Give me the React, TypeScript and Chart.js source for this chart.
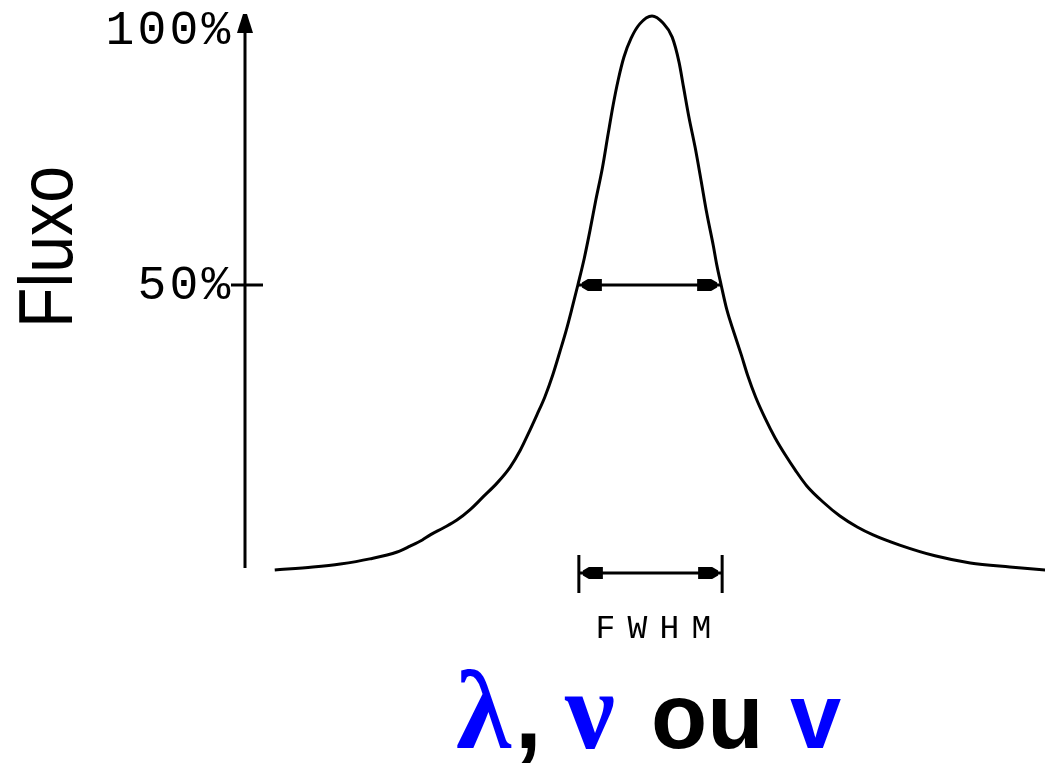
import React, { useEffect, useRef } from "react";
import { Chart, registerables } from "chart.js";

Chart.register(...registerables);

// Spectral line profile: offset from line centre (in units of half the FWHM) and flux (%)
const offsets = [
  -5.24, -4.71, -4.33, -3.92, -3.54, -3.36, -3.19, -3.08, -2.9, -2.71, -2.53, -2.35, -2.15,
  -1.97, -1.83, -1.72, -1.6, -1.49, -1.38, -1.28, -1.19, -1.11, -1.03, -0.94, -0.86, -0.78,
  -0.69, -0.61, -0.54, -0.47, -0.39, -0.29, -0.17, 0.0, 0.15, 0.28, 0.375, 0.44, 0.51, 0.6,
  0.68, 0.76, 0.85, 0.9, 0.96, 1.04, 1.14, 1.24, 1.33, 1.44, 1.57, 1.71, 1.85, 1.99, 2.15,
  2.375, 2.61, 2.85, 3.07, 3.44, 3.93, 4.42, 4.97, 5.46,
];
const flux = [
  -5.9, -5.3, -4.7, -3.7, -2.35, -1.2, 0.0, 1.0, 2.35, 3.9, 5.9, 8.4, 11.2,
  14.3, 17.6, 20.8, 24.5, 28.0, 32.3, 36.9, 41.2, 45.5, 50.0, 55.3, 60.8, 66.7,
  72.9, 79.6, 85.3, 90.2, 94.7, 98.4, 101.2, 102.75, 101.4, 98.6, 93.7, 88.6, 83.1, 76.9,
  70.6, 64.1, 57.8, 53.9, 50.0, 45.1, 40.6, 36.3, 32.2, 28.0, 23.9, 20.0, 16.7, 13.7, 10.6,
  7.45, 4.7, 2.55, 1.0, -1.0, -3.1, -4.5, -5.3, -5.9,
];

// Axis ranges
const xRange = [-5.667, 5.458];
const yRange = [-5.49, 102.35];

// Y tick values and their labels
const tickValues = [50, 100];
const tickLabels = ["50%", "100%"];

// Full width at half maximum: edges of the profile at 50%
const halfMax = 50;
const fwhmEdges = [-1.03, 0.96];
const fwhmMarkerLevel = -6.47;
const fwhmLabel = "FWHM";

// Axis titles
const yTitle = "Fluxo";
const xTitleParts = [
  { text: "λ", color: "#0000ff", font: "bold 112px 'Liberation Serif'", x: 456 },
  { text: ",", color: "#000000", font: "bold 96px 'Liberation Sans'", x: 515 },
  { text: "ν", color: "#0000ff", font: "bold 112px 'Liberation Serif'", x: 565 },
  { text: "ou", color: "#000000", font: "bold 92px 'Liberation Sans'", x: 651 },
  { text: "v", color: "#0000ff", font: "bold 92px 'Liberation Sans'", x: 790 },
];

const MONO = "'Liberation Mono', monospace";

function drawSpaced(ctx: CanvasRenderingContext2D, text: string, firstCenter: number, cy: number, pitch: number) {
  ctx.textAlign = "center";
  ctx.textBaseline = "middle";
  for (let i = 0; i < text.length; i++) {
    ctx.fillText(text[i], firstCenter + i * pitch, cy);
  }
}

function arrowHead(ctx: CanvasRenderingContext2D, xe: number, yc: number, dir: number) {
  // dir = -1 points left (head sits right of xe), +1 points right
  const s = -dir;
  ctx.beginPath();
  ctx.moveTo(xe + s * 4, yc - 2.5);
  ctx.lineTo(xe + s * 10, yc - 6);
  ctx.lineTo(xe + s * 24, yc - 6);
  ctx.lineTo(xe + s * 24, yc + 6);
  ctx.lineTo(xe + s * 10, yc + 6);
  ctx.lineTo(xe + s * 4, yc + 2.5);
  ctx.closePath();
  ctx.fill();
}

function dimension(ctx: CanvasRenderingContext2D, xl: number, xr: number, yc: number, bars: boolean) {
  ctx.lineWidth = 3;
  ctx.beginPath();
  ctx.moveTo(xl, yc);
  ctx.lineTo(xr, yc);
  ctx.stroke();
  arrowHead(ctx, xl, yc, -1);
  arrowHead(ctx, xr, yc, 1);
  if (bars) {
    ctx.beginPath();
    ctx.moveTo(xl, yc - 18);
    ctx.lineTo(xl, yc + 20);
    ctx.moveTo(xr, yc - 18);
    ctx.lineTo(xr, yc + 20);
    ctx.stroke();
  }
}

const overlay = {
  id: "profileOverlay",
  afterDatasetsDraw(chart: any) {
    const { ctx, chartArea, scales } = chart;
    const x = scales.x;
    const y = scales.y;
    ctx.save();
    ctx.fillStyle = "#000";
    ctx.strokeStyle = "#000";

    // Vertical axis with arrow
    const ax = chartArea.left + 1;
    const top = chartArea.top;
    ctx.lineWidth = 3;
    ctx.beginPath();
    ctx.moveTo(ax, chartArea.bottom);
    ctx.lineTo(ax, top + 10);
    ctx.stroke();
    ctx.beginPath();
    ctx.moveTo(ax - 2, top - 4);
    ctx.lineTo(ax + 2, top - 4);
    ctx.lineTo(ax + 8, top + 15);
    ctx.lineTo(ax - 8, top + 15);
    ctx.closePath();
    ctx.fill();

    // Ticks and labels
    tickValues.forEach((v, i) => {
      const py = y.getPixelForValue(v);
      if (v !== 100) {
        ctx.lineWidth = 3;
        ctx.beginPath();
        ctx.moveTo(ax - 14, py);
        ctx.lineTo(ax + 18, py);
        ctx.stroke();
      }
      const label = tickLabels[i];
      ctx.font = `48px ${MONO}`;
      const pitch = 32;
      const lastCenter = ax - 29;
      drawSpaced(ctx, label, lastCenter - (label.length - 1) * pitch, py + 1, pitch);
    });

    // FWHM at half maximum
    const xl = x.getPixelForValue(fwhmEdges[0]);
    const xr = x.getPixelForValue(fwhmEdges[1]);
    dimension(ctx, xl, xr, y.getPixelForValue(halfMax), false);

    // FWHM marker below the profile
    const ym = y.getPixelForValue(fwhmMarkerLevel);
    dimension(ctx, xl + 1, xr + 1, ym, true);
    ctx.font = `33px ${MONO}`;
    const pitch = 32;
    const mid = (xl + xr) / 2 + 4;
    drawSpaced(ctx, fwhmLabel, mid - 1.5 * pitch, ym + 56, pitch);

    // Y title, rotated
    ctx.save();
    ctx.translate(72, 247);
    ctx.rotate(-Math.PI / 2);
    ctx.font = "76px 'Liberation Sans'";
    ctx.textAlign = "center";
    ctx.textBaseline = "alphabetic";
    ctx.fillText(yTitle, 0, 0, 162);
    ctx.restore();

    // X title
    ctx.textAlign = "left";
    ctx.textBaseline = "alphabetic";
    xTitleParts.forEach((p) => {
      ctx.font = p.font;
      ctx.fillStyle = p.color;
      ctx.fillText(p.text, p.x, 748);
    });

    ctx.restore();
  },
};

export default function App() {
  const ref = useRef<HTMLCanvasElement>(null);

  useEffect(() => {
    if (!ref.current) return;
    const chart = new Chart(ref.current, {
      type: "line",
      data: {
        datasets: [
          {
            data: offsets.map((o, i) => ({ x: o, y: flux[i] })),
            borderColor: "#000",
            borderWidth: 3,
            pointRadius: 0,
            cubicInterpolationMode: "monotone",
            fill: false,
            clip: false as any,
          },
        ],
      },
      options: {
        responsive: false,
        animation: false,
        devicePixelRatio: 1,
        layout: { padding: { left: 244, top: 18, right: 0, bottom: 197 } },
        plugins: { legend: { display: false }, tooltip: { enabled: false } },
        scales: {
          x: { type: "linear", min: xRange[0], max: xRange[1], display: false },
          y: { type: "linear", min: yRange[0], max: yRange[1], display: false },
        },
      },
      plugins: [overlay],
    });
    return () => chart.destroy();
  }, []);

  return (
    <div style={{ position: "absolute", left: 0, top: 0, width: 1045, height: 765, background: "#fff" }}>
      <canvas ref={ref} width={1045} height={765} />
    </div>
  );
}
